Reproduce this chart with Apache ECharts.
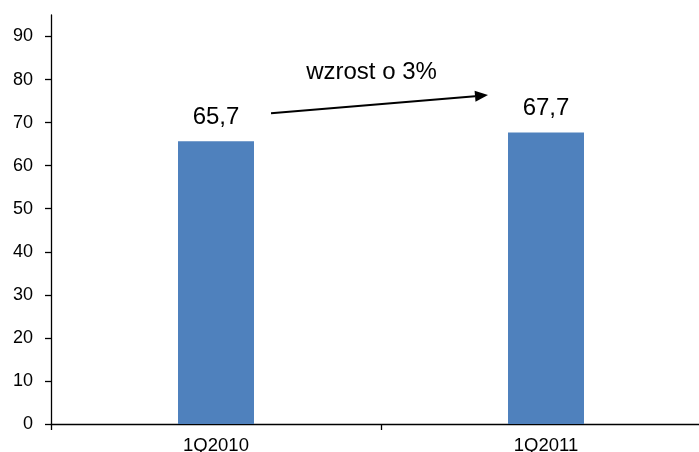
<!DOCTYPE html>
<html>
<head>
<meta charset="utf-8">
<script src="https://cdn.jsdelivr.net/npm/echarts@6/dist/echarts.min.js"></script>
<style>
  html, body { margin: 0; padding: 0; background: #fff; overflow: hidden; }
  #chart { width: 699px; height: 452px; }
</style>
</head>
<body>
<div id="chart"></div>
<script>
// Quarterly values (first quarter of each year)
const categories = ['1Q2010', '1Q2011'];
const values = [65.7, 67.7];
const yTicks = [0, 10, 20, 30, 40, 50, 60, 70, 80, 90];
const growthText = 'wzrost o 3%';

const FONT = '"Liberation Sans", Arial, sans-serif';
const chart = echarts.init(document.getElementById('chart'), null, { renderer: 'canvas' });

const option = {
  animation: false,
  backgroundColor: '#ffffff',
  // plot area runs a little past the right edge of the canvas
  grid: { left: 51, top: 15, width: 660, height: 409, containLabel: false, outerBoundsMode: 'none' },
  xAxis: {
    type: 'category',
    data: categories,
    boundaryGap: true,
    axisLine: { lineStyle: { color: '#000', width: 1.3 } },
    axisTick: { show: true, length: 6, alignWithLabel: false, lineStyle: { color: '#000', width: 1.3 } },
    axisLabel: { color: '#000', fontFamily: FONT, fontSize: 18.5, margin: 12 },
    splitLine: { show: false }
  },
  yAxis: {
    type: 'value',
    min: 0,
    max: 95,
    interval: 10,
    axisLine: { show: true, lineStyle: { color: '#000', width: 1.3 } },
    axisTick: { show: true, length: 6, customValues: yTicks, lineStyle: { color: '#000', width: 1.3 } },
    axisLabel: { color: '#000', fontFamily: FONT, fontSize: 18, margin: 18, customValues: yTicks },
    splitLine: { show: false }
  },
  series: [{
    type: 'bar',
    data: values,
    barWidth: 76,
    itemStyle: { color: '#4F81BD' },
    label: {
      show: true,
      position: 'top',
      distance: 12,
      color: '#000',
      fontFamily: FONT,
      fontSize: 24,
      formatter: p => String(p.value).replace('.', ',')
    }
  }]
};
chart.setOption(option);

// Growth arrow between the two bars, anchored to the axes
const p0 = chart.convertToPixel({ xAxisIndex: 0, yAxisIndex: 0 }, [0, 72.2]);
const p1 = chart.convertToPixel({ xAxisIndex: 0, yAxisIndex: 0 }, [1, 76.4]);
const x0 = p0[0] + 55, y0 = p0[1];
const x1 = p1[0] - 58, y1 = p1[1];
const ang = Math.atan2(y1 - y0, x1 - x0);
const headLen = 13, headW = 5.5;
const bx = x1 - headLen * Math.cos(ang), by = y1 - headLen * Math.sin(ang);
const nx = -Math.sin(ang), ny = Math.cos(ang);

chart.setOption({
  graphic: [
    {
      type: 'line',
      shape: { x1: x0, y1: y0, x2: bx, y2: by },
      style: { stroke: '#000', lineWidth: 2 }
    },
    {
      type: 'polygon',
      shape: { points: [[x1, y1], [bx + nx * headW, by + ny * headW], [bx - nx * headW, by - ny * headW]] },
      style: { fill: '#000' }
    },
    {
      type: 'text',
      x: (x0 + x1) / 2 - 8,
      y: 72,
      style: {
        text: growthText,
        fill: '#000',
        font: '24px ' + FONT,
        textAlign: 'center',
        textVerticalAlign: 'middle'
      }
    }
  ]
});
</script>
</body>
</html>
